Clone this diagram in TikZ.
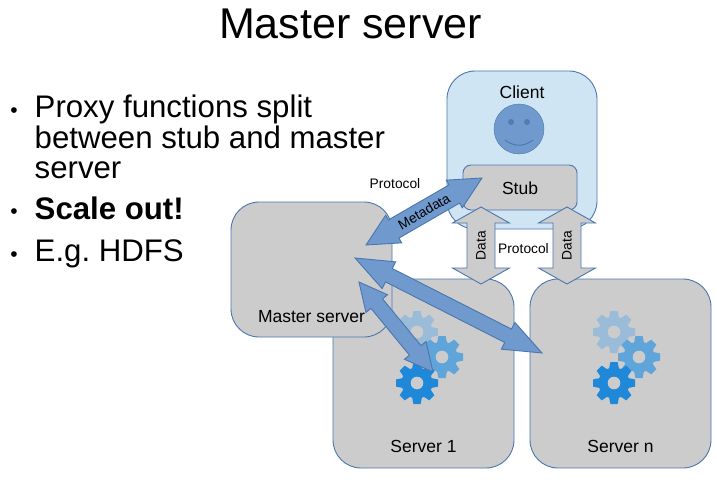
\documentclass[tikz,border=0pt]{standalone}
\usepackage{fontspec}
\setmainfont{Liberation Sans}
\usetikzlibrary{calc}

\definecolor{boxgrey}{HTML}{CCCCCC}
\definecolor{edgeblue}{HTML}{4A76AE}
\definecolor{arrowblue}{HTML}{7099CE}
\definecolor{clientblue}{HTML}{CFE5F4}
\definecolor{gearlight}{HTML}{9ABCD8}
\definecolor{gearmid}{HTML}{5FA5D9}
\definecolor{geardark}{HTML}{1F88D9}

\newcommand{\fs}[1]{\fontsize{#1}{#1}\selectfont}

\tikzset{
  greybox/.style = {draw = edgeblue, fill = boxgrey, line width = 0.9pt, rounded corners = 28pt, inner sep = 0pt},
  smalltext/.style = {font = \fs{13.8}, inner sep = 0pt},
  boxtext/.style = {font = \fs{17.5}, inner sep = 0pt},
  bigtext/.style = {font = \fs{31.2}, inner sep = 0pt, anchor = north west, align = left},
  dottext/.style = {font = \fs{21}, inner sep = 0pt},
  fatline/.style = {draw = edgeblue, line width = 0.9pt, line join = miter},
}

% #1 fill, #2 from, #3 to, #4 half shaft, #5 half head, #6 head length
\newcommand{\fatarrow}[6]{
  \draw [fatline, fill = #1] (#2)
    -- ($(#2)!#6!(#3)!#5!90:(#3)$) -- ($(#2)!#6!(#3)!#4!90:(#3)$)
    -- ($(#3)!#6!(#2)!#4!-90:(#2)$) -- ($(#3)!#6!(#2)!#5!-90:(#2)$)
    -- (#3)
    -- ($(#3)!#6!(#2)!#5!90:(#2)$) -- ($(#3)!#6!(#2)!#4!90:(#2)$)
    -- ($(#2)!#6!(#3)!#4!-90:(#3)$) -- ($(#2)!#6!(#3)!#5!-90:(#3)$)
    -- cycle;
}

% #1 centre, #2 colour
\newcommand{\gearicon}[2]{
  \begin{scope}[shift = {(#1)}]
    \fill [#2] (0,0) circle (15.5);
    \foreach \a in {0,45,...,315}
      \fill [#2, rotate = \a] (-5,-14) -- (-3.6,-21) -- (3.6,-21) -- (5,-14) -- cycle;
    \fill [boxgrey] (0,0) circle (6.3);
  \end{scope}
}

\begin{document}
\begin{tikzpicture}[x = 1pt, y = -1pt]
\useasboundingbox (0,0) rectangle (717,484);

\node [font = \fs{43}, inner sep = 0pt] (title) at (350.5,24) {Master server};

\node [dottext] (dota) at (14,113) {•};
\node [bigtext] (proxy) at (34.5,95) {Proxy functions split\\[-1pt]between stub and master\\[-1pt]server};
\node [dottext] (dotb) at (14,214) {•};
\node [bigtext, font = \fs{31.2}\bfseries] (scale) at (34.5,197) {Scale out!};
\node [dottext] (dotc) at (14,257) {•};
\node [bigtext] (hdfs) at (34.5,240) {E.g.\ HDFS};

% client
\node [greybox, fill = clientblue, minimum width = 150pt, minimum height = 158pt] (client) at (522,150) {};
\node [boxtext] (clientlabel) at (522,92) {Client};
\node [circle, draw = edgeblue, fill = arrowblue, minimum size = 50pt, inner sep = 0pt] (face) at (519,129) {};
\node [circle, fill = edgeblue!80!arrowblue, minimum size = 6pt, inner sep = 0pt] (eyea) at (511,122) {};
\node [circle, fill = edgeblue!80!arrowblue, minimum size = 6pt, inner sep = 0pt] (eyeb) at (527,122) {};
\draw [edgeblue, line width = 0.9pt] (505,140) .. controls (514,147) and (524,147) .. (533,140);
\node [greybox, rounded corners = 8pt, minimum width = 114pt, minimum height = 45pt] (stub) at (520,187.5) {};
\node [boxtext] (stublabel) at (520,188) {Stub};

% servers
\node [greybox, minimum width = 181pt, minimum height = 189pt] (server1) at (423.5,373.5) {};
\node [greybox, minimum width = 181pt, minimum height = 189pt] (servern) at (620.5,373.5) {};
\node [greybox, minimum width = 161pt, minimum height = 135pt] (master) at (311.5,269.5) {};
\node [boxtext] (masterlabel) at (311.5,317) {Master server};
\node [boxtext] (server1label) at (423.5,446) {Server 1};
\node [boxtext] (servernlabel) at (620.5,446) {Server n};

\gearicon{417,332}{gearlight}
\gearicon{442,357}{gearmid}
\gearicon{417,383}{geardark}
\gearicon{614,332}{gearlight}
\gearicon{639,357}{gearmid}
\gearicon{614,383}{geardark}

\node [smalltext] (protocola) at (395,184) {Protocol};
\node [smalltext] (protocolb) at (523.5,249) {Protocol};

\coordinate (dataabottom) at (481,284);
\coordinate (dataatop) at (481,207);
\coordinate (databbottom) at (567,284);
\coordinate (databtop) at (567,207);
\coordinate (metamaster) at (366,245);
\coordinate (metastub) at (482,178);
\coordinate (nmaster) at (355,258);
\coordinate (nserver) at (542,353);
\coordinate (onemaster) at (359,282);
\coordinate (oneserver) at (433,372);

\fatarrow{boxgrey}{dataabottom}{dataatop}{14pt}{28.5pt}{16pt}
\fatarrow{boxgrey}{databbottom}{databtop}{14pt}{28.5pt}{16pt}
\fatarrow{arrowblue}{metamaster}{metastub}{10.5pt}{16pt}{32pt}
\fatarrow{arrowblue}{nmaster}{nserver}{7.5pt}{15pt}{38pt}
\fatarrow{arrowblue}{onemaster}{oneserver}{7.5pt}{14pt}{28pt}

\path (dataabottom) -- node [sloped, smalltext] (dataa) {Data} (dataatop);
\path (databbottom) -- node [sloped, smalltext] (datab) {Data} (databtop);
\path (metamaster) -- node [sloped, smalltext] (metadata) {Metadata} (metastub);
\end{tikzpicture}
\end{document}
